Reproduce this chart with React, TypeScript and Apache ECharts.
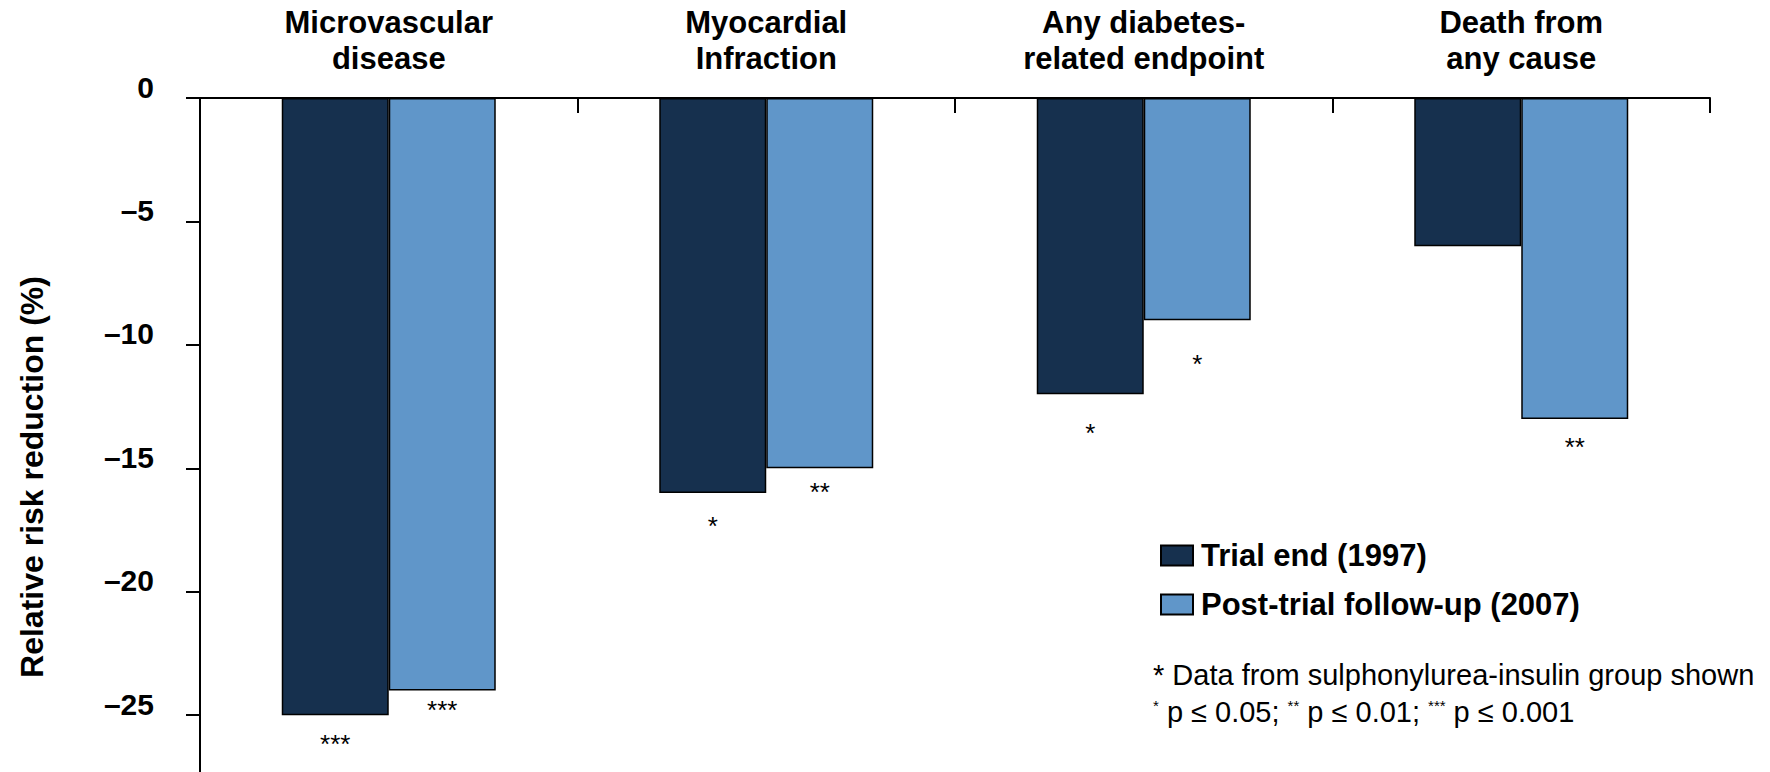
import React, { useEffect, useRef } from 'react';
import * as echarts from 'echarts';

const categories = [
  'Microvascular\ndisease',
  'Myocardial\nInfraction',
  'Any diabetes-\nrelated endpoint',
  'Death from\nany cause',
];
const seriesNames = ['Trial end (1997)', 'Post-trial follow-up (2007)'];
const trialEnd = [-25, -16, -12, -6];
const postTrial = [-24, -15, -9, -13];
const trialEndStars = ['***', '*', '*', ''];
const postTrialStars = ['***', '**', '*', '**'];
const yTicks = [0, -5, -10, -15, -20, -25];
const yAxisName = 'Relative risk reduction (%)';
const footnote1 = '* Data from sulphonylurea-insulin group shown';
const footnote2 = '{s|*} p ≤ 0.05; {s|**} p ≤ 0.01; {s|***} p ≤ 0.001';

// style-only: gap between bar end and significance label
const trialEndStarGap = [16, 20, 26, 0];
const postTrialStarGap = [6, 11, 31, 15];

const FONT = '"Liberation Sans", Arial, Helvetica, sans-serif';

export default function App() {
  const ref = useRef<HTMLDivElement>(null);

  useEffect(() => {
    document.body.style.margin = '0';
    const chart = echarts.init(ref.current!, undefined, { renderer: 'svg' });

    const mkSeries = (name: string, values: number[], stars: string[], gaps: number[], color: string) => ({
      type: 'bar',
      name,
      barWidth: 107,
      barGap: '0%',
      itemStyle: { color, borderColor: '#000', borderWidth: 1.5 },
      label: {
        show: true,
        position: 'bottom',
        fontSize: 26,
        fontFamily: FONT,
        color: '#000',
        formatter: (p: any) => stars[p.dataIndex],
      },
      data: values.map((v, i) => ({ value: v, label: { distance: gaps[i] } })),
    });

    chart.setOption({
      animation: false,
      backgroundColor: '#fff',
      textStyle: { fontFamily: FONT },
      grid: { left: 200, right: 60, top: 98, bottom: 0, containLabel: false, outerBoundsMode: 'none' },
      legend: {
        orient: 'vertical',
        left: 1155,
        top: 535,
        itemWidth: 32,
        itemHeight: 20,
        itemGap: 18,
        icon: 'rect',
        selectedMode: false,
        data: seriesNames,
        textStyle: {
          fontSize: 31,
          fontWeight: 'bold',
          fontFamily: FONT,
          color: '#000',
          lineHeight: 20,
          padding: [0, 0, 0, 3],
        },
      },
      xAxis: {
        type: 'category',
        position: 'top',
        data: categories,
        axisLine: { show: true, onZero: false, lineStyle: { color: '#000', width: 2 } },
        axisTick: { show: true, inside: true, interval: 0, alignWithLabel: false, length: 15, lineStyle: { color: '#000', width: 2 } },
        axisLabel: {
          fontSize: 31,
          fontWeight: 'bold',
          fontFamily: FONT,
          color: '#000',
          lineHeight: 36,
          margin: 22,
          interval: 0,
        },
      },
      yAxis: {
        type: 'value',
        min: -27.3,
        max: 0,
        splitLine: { show: false },
        axisLine: { show: true, lineStyle: { color: '#000', width: 2 } },
        axisTick: { show: true, length: 14, customValues: yTicks, lineStyle: { color: '#000', width: 2 } },
        axisLabel: {
          customValues: yTicks,
          fontSize: 30,
          fontWeight: 'bold',
          fontFamily: FONT,
          color: '#000',
          margin: 46,
          verticalAlign: 'bottom',
          lineHeight: 22,
          formatter: (v: number) => (v === 0 ? '0' : '–' + Math.abs(v)),
        },
      },
      series: [
        mkSeries(seriesNames[0], trialEnd, trialEndStars, trialEndStarGap, '#16304e'),
        mkSeries(seriesNames[1], postTrial, postTrialStars, postTrialStarGap, '#6096c9'),
      ],
      graphic: [
        {
          type: 'text',
          x: 32,
          y: 477,
          rotation: Math.PI / 2,
          style: {
            text: yAxisName,
            fontSize: 32,
            fontWeight: 'bold',
            fontFamily: FONT,
            fill: '#000',
            align: 'center',
            verticalAlign: 'middle',
          },
        },
        {
          type: 'text',
          x: 1153,
          y: 675,
          style: {
            text: footnote1,
            fontSize: 29,
            fontFamily: FONT,
            fill: '#000',
            align: 'left',
            verticalAlign: 'middle',
          },
        },
        {
          type: 'text',
          x: 1153,
          y: 712,
          style: {
            text: footnote2,
            fontSize: 29,
            fontFamily: FONT,
            fill: '#000',
            align: 'left',
            verticalAlign: 'middle',
            rich: {
              s: { fontSize: 15, fontFamily: FONT, fill: '#000', verticalAlign: 'top', padding: [0, 0, 14, 0] },
            },
          },
        },
      ],
    });

    return () => chart.dispose();
  }, []);

  return (
    <div
      ref={ref}
      style={{ width: 1770, height: 772, position: 'absolute', left: 0, top: 0, background: '#fff' }}
    />
  );
}
